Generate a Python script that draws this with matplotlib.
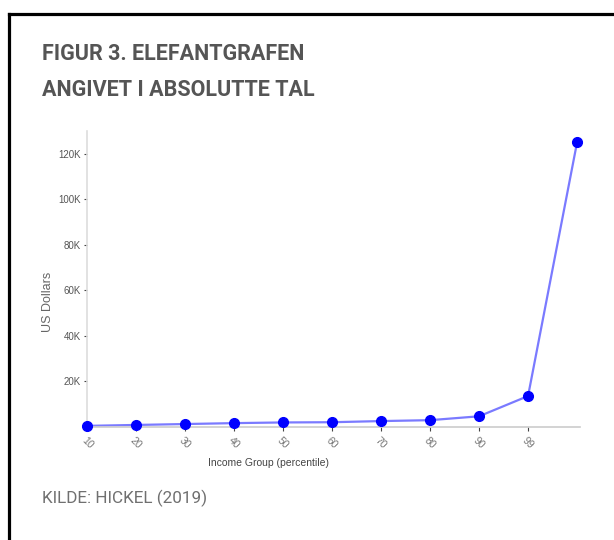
import matplotlib
matplotlib.use("Agg")
import matplotlib.pyplot as plt
from matplotlib.lines import Line2D

# Data
groups = ["10", "20", "30", "40", "50", "60", "70", "80", "90", "99", ""]
values = [500, 900, 1300, 1700, 2000, 2100, 2600, 3000, 4700, 13600, 125000]
yticks = [20000, 40000, 60000, 80000, 100000, 120000]
ytick_labels = ["20K", "40K", "60K", "80K", "100K", "120K"]

title_lines = ["FIGUR 3. ELEFANTGRAFEN", "ANGIVET I ABSOLUTTE TAL"]
source = "KILDE: HICKEL (2019)"

W, H = 614, 540
fig = plt.figure(figsize=(W / 100, H / 100), dpi=100)
fig.patch.set_facecolor("white")

narrow = ["Roboto", "DejaVu Sans"]
arial = ["Liberation Sans", "DejaVu Sans"]

# frame (left + top borders)
fig.add_artist(Line2D([9 / W, 9 / W], [0, 1 - 14 / H], transform=fig.transFigure,
                      color="black", lw=2.3, solid_capstyle="projecting"))
fig.add_artist(Line2D([9 / W, 1], [1 - 14 / H, 1 - 14 / H], transform=fig.transFigure,
                      color="black", lw=2.3, solid_capstyle="projecting"))

# titles
fig.text(42 / W, 1 - 54 / H, title_lines[0], family=narrow, fontweight="bold",
         fontsize=15.5, color="#555555", va="center", ha="left")
fig.text(42 / W, 1 - 90 / H, title_lines[1], family=narrow, fontweight="bold",
         fontsize=15.5, color="#555555", va="center", ha="left")
fig.text(42 / W, 1 - 498 / H, source, family=narrow, fontweight="normal",
         fontsize=12.3, color="#707070", va="center", ha="left")

# axes
left, right = 87 / W, 580 / W
bottom, top = 1 - 427 / H, 1 - 131 / H
ax = fig.add_axes([left, bottom, right - left, top - bottom])
x = list(range(len(groups)))
ax.plot(x, values, color="#7a7aff", lw=1.6, zorder=2)
ax.plot(x, values, linestyle="none", marker="o", markersize=7,
        color="#0000ff", zorder=3, clip_on=False)

ax.set_xlim(0, 10.06)
ax.set_ylim(0, 130000)
ax.set_yticks(yticks)
ax.set_yticklabels(ytick_labels, family=arial, fontsize=7, color="#555555")
ax.set_xticks(x[:-1])
ax.set_xticklabels(groups[:-1], family=arial, fontsize=7.5, color="#777777",
                   rotation=-45, ha="center", va="top")
ax.tick_params(axis="y", length=2.5, width=0.8, color="#444444", pad=2)
ax.tick_params(axis="x", length=3, width=0.8, color="#444444", pad=3)

for s in ["top", "right"]:
    ax.spines[s].set_visible(False)
ax.spines["left"].set_color("#dddddd")
ax.spines["bottom"].set_color("#cccccc")
ax.spines["left"].set_linewidth(1.2)
ax.spines["bottom"].set_linewidth(1.2)

ax.set_ylabel("US Dollars", family=arial, fontsize=9, color="#666666")
ax.yaxis.set_label_coords((48 - 87) / (580 - 87), (427 - 302) / 296)
ax.set_xlabel("Income Group (percentile)", family=arial, fontsize=7.5,
              color="#444444")
ax.xaxis.set_label_coords((268 - 87) / (580 - 87), -(463 - 427) / 296)
ax.xaxis.label.set_va("center")
ax.yaxis.label.set_va("center")

fig.savefig("out.png", dpi=100, facecolor="white")
